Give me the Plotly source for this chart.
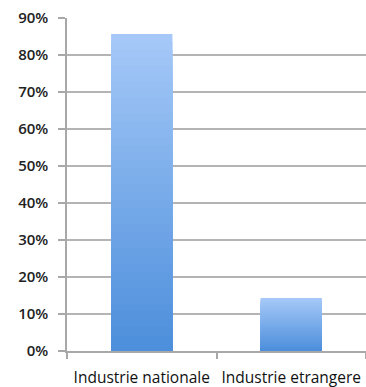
import plotly.graph_objects as go

categories = ["Industrie nationale", "Industrie etrangere"]
values = [0.857, 0.143]
tick_vals = [0, 0.1, 0.2, 0.3, 0.4, 0.5, 0.6, 0.7, 0.8, 0.9]
tick_text = ["0%", "10%", "20%", "30%", "40%", "50%", "60%", "70%", "80%", "90%"]

top_rgb = (166, 201, 248)
bot_rgb = (76, 142, 219)
n_steps = 40

fig = go.Figure()
for i in range(n_steps, 0, -1):
    frac = i / n_steps
    t = (i - 0.5) / n_steps
    c = tuple(round(bot_rgb[j] + (top_rgb[j] - bot_rgb[j]) * t) for j in range(3))
    fig.add_trace(go.Bar(
        x=categories,
        y=[v * frac for v in values],
        marker=dict(color="rgb(%d,%d,%d)" % c, line=dict(width=0)),
        showlegend=False,
        hoverinfo="skip",
    ))

fig.update_layout(
    width=366, height=387,
    margin=dict(l=67, r=0, t=18, b=36),
    barmode="overlay",
    bargap=0.59,
    plot_bgcolor="white",
    paper_bgcolor="white",
    font=dict(family="Open Sans", color="#222222"),
)
fig.update_xaxes(
    type="category",
    tickson="boundaries",
    ticks="outside", ticklen=6, tickcolor="#a8a8a8", tickwidth=1.5,
    showline=True, linecolor="#a8a8a8", linewidth=1.5,
    showgrid=False,
    tickangle=0,
    automargin=False,
    tickfont=dict(size=15.5, color="#111111"),
    ticklabelstandoff=12,
)
fig.update_yaxes(
    range=[0, 0.9],
    tickvals=tick_vals, ticktext=tick_text,
    ticks="outside", ticklen=7, tickcolor="#a8a8a8", tickwidth=1.5,
    showline=True, linecolor="#a8a8a8", linewidth=1.5,
    showgrid=True, gridcolor="#b4b4b4", gridwidth=1.5,
    zeroline=False,
    automargin=False,
    tickfont=dict(size=15, color="#222222", weight=600),
    ticklabelstandoff=7,
)

fig.write_html("out.html")
